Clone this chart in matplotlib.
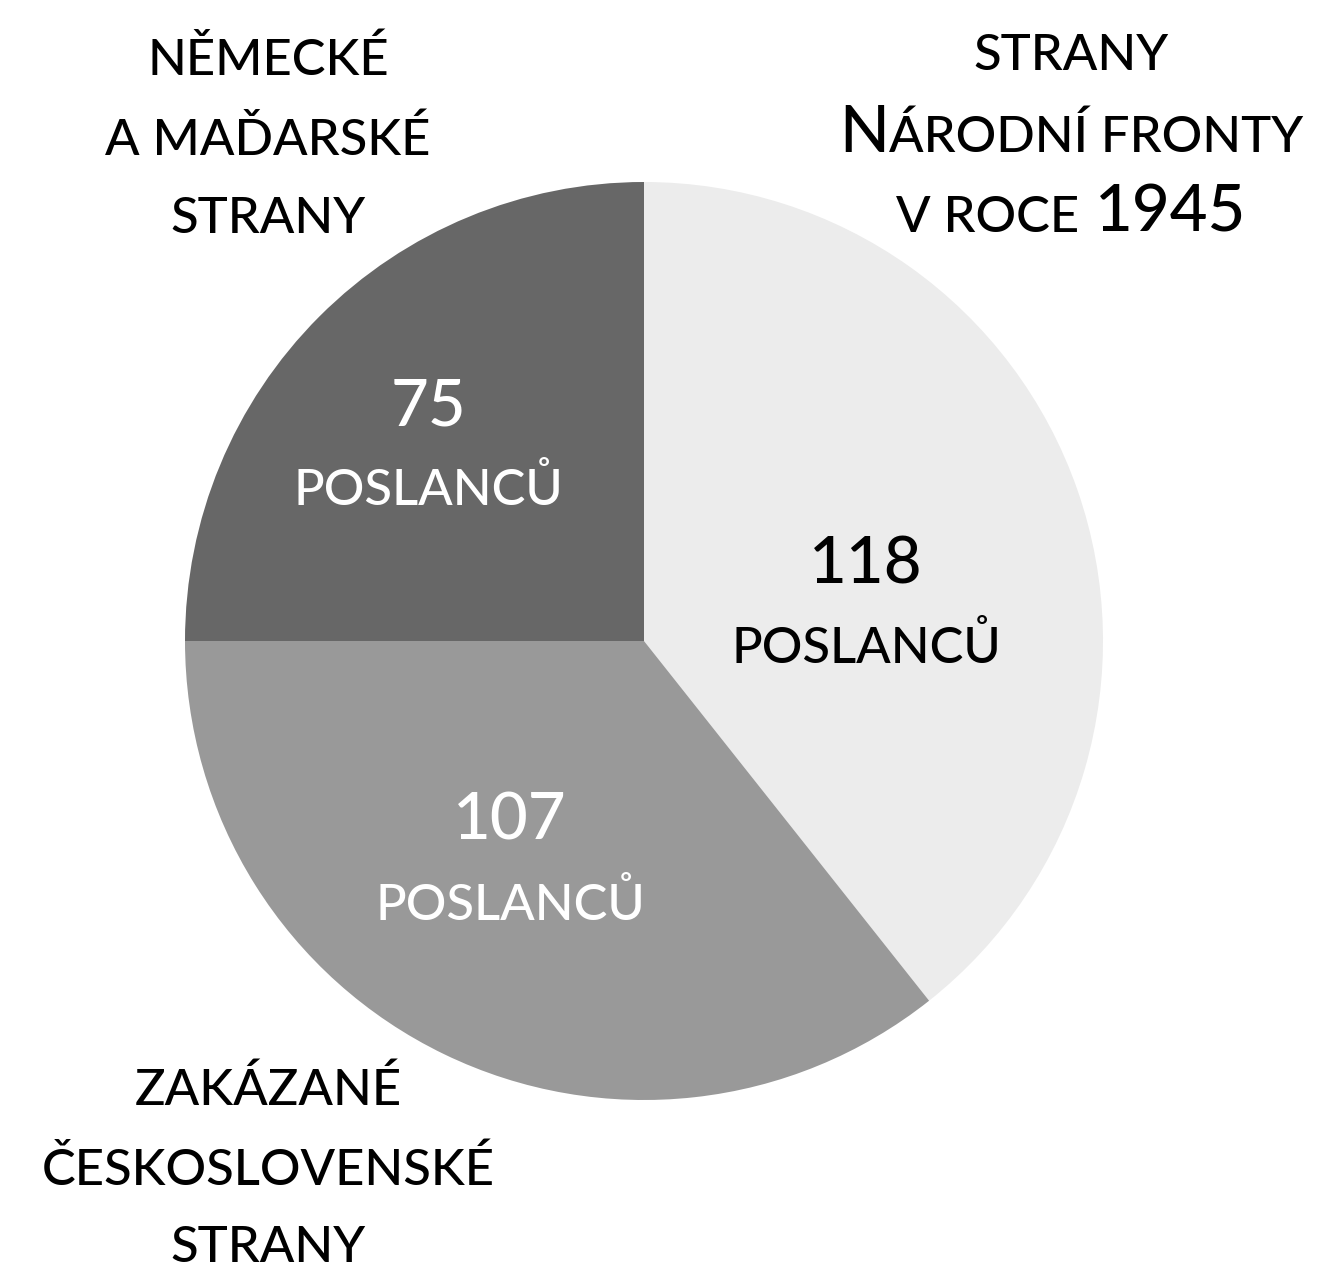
import matplotlib
matplotlib.use("Agg")
import matplotlib.pyplot as plt

# ---- data ----
values = [118, 107, 75]
slice_colors = ["#ececec", "#999999", "#676767"]
value_labels = ["118", "107", "75"]
unit_label = "POSLANCŮ"
label_colors = ["#000000", "#ffffff", "#ffffff"]
cat_natl = [[("STRANY", "s")], [("N", "b"), ("ÁRODNÍ FRONTY", "s")], [("V ROCE", "s"), (None, 16), ("1945", "b")]]
cat_ger = ["NĚMECKÉ", "A MAĎARSKÉ", "STRANY"]
cat_ban = ["ZAKÁZANÉ", "ČESKOSLOVENSKÉ", "STRANY"]

W, H = 1323, 1270
fig = plt.figure(figsize=(W / 100, H / 100), dpi=100)
ax = fig.add_axes([0, 0, 1, 1])
ax.set_xlim(0, W)
ax.set_ylim(0, H)
ax.axis("off")

cx, cy, r = 644, H - 641, 459
ax.pie(values, colors=slice_colors, startangle=90, counterclock=False,
       center=(cx, cy), radius=r, frame=True,
       wedgeprops=dict(linewidth=0))
ax.set_xlim(0, W)
ax.set_ylim(0, H)
ax.set_aspect("equal")
ax.axis("off")

FONT = "Lato"
WEIGHT = "medium"
SMALL = 36.5
BIG = 47
renderer = fig.canvas.get_renderer()


def line(segments, xc, base_img, color="black"):
    y = H - base_img
    items = []
    for s, kind in segments:
        if s is None:
            items.append((None, kind))
            continue
        size = SMALL if kind == "s" else BIG
        t = ax.text(0, y, s, fontsize=size, family=FONT, fontweight=WEIGHT,
                    va="baseline", ha="left", color=color)
        items.append((t, None))
    widths = []
    for t, g in items:
        if t is None:
            widths.append(g)
        else:
            widths.append(t.get_window_extent(renderer).width)
    x = xc - sum(widths) / 2
    for (t, g), w in zip(items, widths):
        if t is not None:
            t.set_x(x)
        x += w


# right header
for segs, b in zip(cat_natl, [70, 152, 232]):
    line(segs, 1071, b)
# left header
for s, b in zip(cat_ger, [75, 155, 233]):
    line([(s, "s")], 268, b)
# bottom-left
for s, b in zip(cat_ban, [1105, 1185, 1262]):
    line([(s, "s")], 268, b)

# slice labels
pos = [(866, 583, 663), (510, 840, 920), (428, 425, 505)]
for lab, col, (x, b1, b2) in zip(value_labels, label_colors, pos):
    line([(lab, "b")], x, b1, col)
    line([(unit_label, "s")], x, b2, col)

fig.savefig("out.png", dpi=100, facecolor="white")
